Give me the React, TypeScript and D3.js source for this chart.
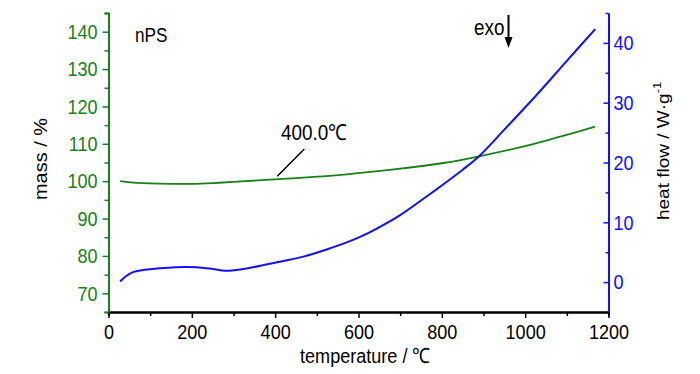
import * as d3 from "d3";
import {useEffect, useRef} from "react";

const WIDTH = 700;
const HEIGHT = 374;
const PLOT = {left: 108.5, right: 608.5, top: 13, bottom: 312};

const GREEN = "#178217";
const BLUE = "#1010ff";
const FONT = "'Liberation Sans', Arial, sans-serif";
const SX = 0.86; // the original figure is squeezed horizontally

// mass curve (TG)
const massTemps = [28, 60, 100, 150, 200, 250, 300, 400, 530, 690, 800, 887, 1012, 1084, 1168];
const massValues = [100.0, 99.6, 99.4, 99.3, 99.3, 99.5, 99.8, 100.5, 101.4, 103.2, 104.8, 106.6, 109.7, 111.9, 114.6];

// heat flow curve (DSC)
const heatTemps = [28, 40, 60, 80, 120, 160, 210, 250, 280, 340, 410, 470, 525, 570, 605, 645, 700, 765, 850, 890, 950, 1030, 1100, 1168];
const heatValues = [0.1, 0.9, 1.7, 2.0, 2.3, 2.5, 2.5, 2.2, 1.9, 2.4, 3.4, 4.3, 5.5, 6.6, 7.6, 9.0, 11.2, 14.4, 18.8, 21.1, 25.5, 31.5, 37.0, 42.3];

const xTicks = [0, 200, 400, 600, 800, 1000, 1200];
const massTicks = [70, 80, 90, 100, 110, 120, 130, 140];
const heatTicks = [0, 10, 20, 30, 40];

// squeeze horizontal text like the original export
const squeeze = (sel) => {
    sel.each(function () {
        const t = d3.select(this);
        const x = +(t.attr("x") || 0);
        t.attr("x", x / SX).attr("transform", `scale(${SX},1)`);
    });
};

const App = () => {
    const ref = useRef<SVGSVGElement>(null);

    useEffect(() => {
        const svg = d3.select(ref.current);
        svg.selectAll("*").remove();

        const x = d3.scaleLinear().domain([0, 1200]).range([PLOT.left, PLOT.right]);
        const yL = d3.scaleLinear().domain([65, 145]).range([PLOT.bottom, PLOT.top]);
        const yR = d3.scaleLinear().domain([-5, 45]).range([PLOT.bottom, PLOT.top]);

        const styleAxis = (g, color) => {
            g.selectAll("path").attr("stroke", color).attr("stroke-width", 2);
            g.selectAll("line").attr("stroke", color).attr("stroke-width", 1.5);
            g.selectAll("text").attr("fill", color).style("font-family", FONT).style("font-size", "21px").call(squeeze);
        };

        // minor ticks first, then major axes on top
        svg.append("g")
            .attr("transform", `translate(0,${PLOT.bottom})`)
            .call(d3.axisBottom(x).tickValues(d3.range(100, 1200, 200)).tickSize(4).tickFormat(() => ""))
            .call(g => styleAxis(g, "#000"));
        svg.append("g")
            .attr("transform", `translate(${PLOT.left},0)`)
            .call(d3.axisLeft(yL).tickValues(d3.range(65, 146, 10)).tickSize(4).tickFormat(() => ""))
            .call(g => styleAxis(g, GREEN));
        svg.append("g")
            .attr("transform", `translate(${PLOT.right},0)`)
            .call(d3.axisRight(yR).tickValues(d3.range(-5, 46, 10)).tickSizeInner(-3).tickSizeOuter(0).tickFormat(() => ""))
            .call(g => styleAxis(g, BLUE));

        svg.append("g")
            .attr("transform", `translate(0,${PLOT.bottom})`)
            .call(d3.axisBottom(x).tickValues(xTicks).tickFormat(d3.format("d")).tickSizeInner(6).tickSizeOuter(0).tickPadding(6))
            .call(g => styleAxis(g, "#000"));
        svg.append("g")
            .attr("transform", `translate(${PLOT.left},0)`)
            .call(d3.axisLeft(yL).tickValues(massTicks).tickSizeInner(6).tickSizeOuter(0).tickPadding(5))
            .call(g => styleAxis(g, GREEN));
        svg.append("g")
            .attr("transform", `translate(${PLOT.right},0)`)
            .call(d3.axisRight(yR).tickValues(heatTicks).tickSizeInner(-5).tickSizeOuter(0).tickPadding(5))
            .call(g => styleAxis(g, BLUE));

        // curves
        const massLine = d3.line<number>()
            .x((d, i) => x(massTemps[i]))
            .y(d => yL(d))
            .curve(d3.curveCatmullRom.alpha(0.5));
        const heatLine = d3.line<number>()
            .x((d, i) => x(heatTemps[i]))
            .y(d => yR(d))
            .curve(d3.curveCatmullRom.alpha(0.5));

        svg.append("path")
            .attr("d", massLine(massValues))
            .attr("fill", "none")
            .attr("stroke", GREEN)
            .attr("stroke-width", 1.8);
        svg.append("path")
            .attr("d", heatLine(heatValues))
            .attr("fill", "none")
            .attr("stroke", BLUE)
            .attr("stroke-width", 2);

        // horizontal text helper
        const label = (px, py, size, str) =>
            svg.append("text")
                .attr("transform", `translate(${px},${py}) scale(${SX},1)`)
                .style("font-family", FONT).style("font-size", `${size}px`)
                .text(str);

        // axis titles
        svg.append("text")
            .attr("transform", "translate(47,159) rotate(-90) scale(1,0.9)")
            .attr("text-anchor", "middle")
            .style("font-family", FONT).style("font-size", "20px")
            .text("mass / %");
        label(365, 363, 21, "temperature / ℃").attr("text-anchor", "middle");
        const hf = svg.append("text")
            .attr("transform", "translate(669,220) rotate(-90) scale(1,0.9)")
            .style("font-family", FONT).style("font-size", "19px");
        hf.append("tspan").text("heat flow / W·g");
        hf.append("tspan").attr("dy", -9).style("font-size", "13px").text("-1");

        // annotations
        label(135, 42, 20, "nPS");
        label(474, 35, 22, "exo");
        svg.append("line")
            .attr("x1", 508.5).attr("y1", 15).attr("x2", 508.5).attr("y2", 40)
            .attr("stroke", "#000").attr("stroke-width", 2);
        svg.append("path")
            .attr("d", "M504.5,37 L512.5,37 L508.5,48 Z")
            .attr("fill", "#000");

        label(281, 140, 22, "400.0℃");
        svg.append("line")
            .attr("x1", x(470)).attr("y1", 149)
            .attr("x2", x(405)).attr("y2", yL(100.5) - 3)
            .attr("stroke", "#000").attr("stroke-width", 1.5);
    }, []);

    return (
        <svg ref={ref} width={WIDTH} height={HEIGHT}
             style={{position: "absolute", left: 0, top: 0, background: "#fff"}}/>
    );
};

export default App;
